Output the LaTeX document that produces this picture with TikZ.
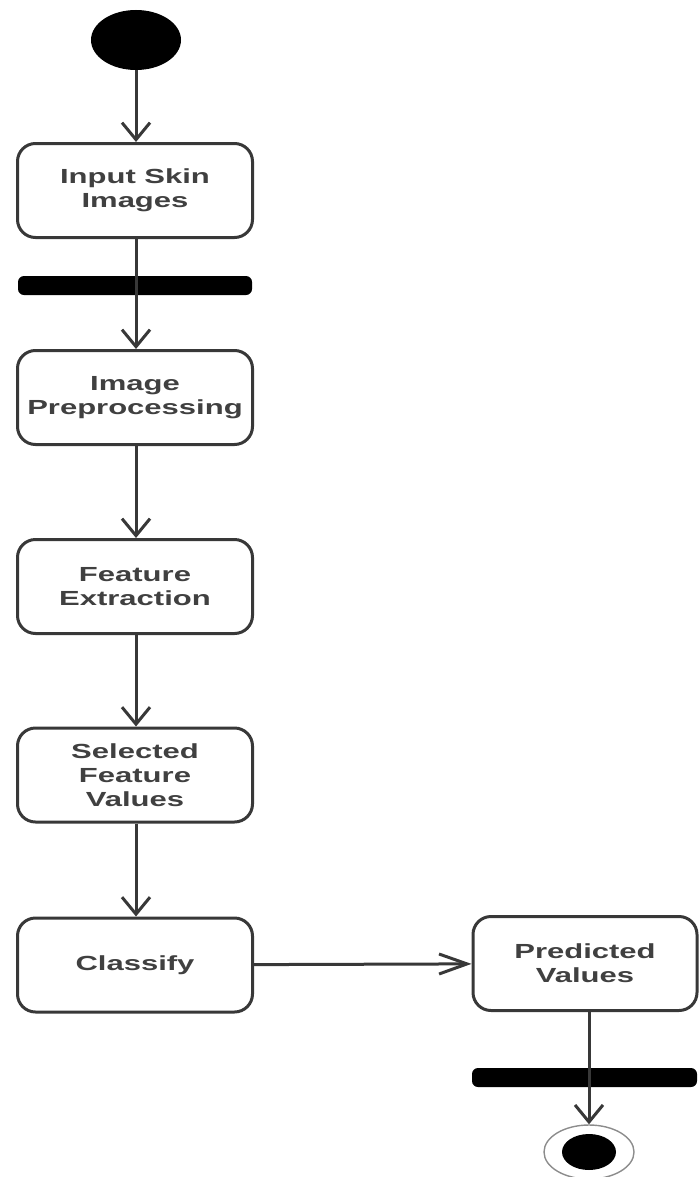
\documentclass[tikz,border=0pt]{standalone}
\usepackage{fontspec}
\setmainfont{Liberation Sans}[FakeStretch=1.52]
\usepackage{xcolor}
\usetikzlibrary{arrows.meta,positioning,shapes.geometric}
\definecolor{LineGray}{HTML}{383838}
\definecolor{TextGray}{HTML}{404040}
\definecolor{RingGray}{HTML}{8C8C8C}

\begin{document}
\begin{tikzpicture}[
      x=0.5pt, y=0.5pt,
      font=\fontsize{10.2}{11.9}\selectfont\bfseries,
      activity/.style={draw=LineGray,fill=white,line width=1.5pt,rounded corners=9pt,minimum width=117.5pt,minimum height=47pt,align=center,text=TextGray,inner sep=0pt},
      forkbar/.style={fill=black,rounded corners=3pt,minimum width=117pt,minimum height=9.5pt,inner sep=0pt},
      flow/.style={draw=LineGray,line width=1.5pt,-{Straight Barb[length=8.5pt,width=14pt,line width=1.5pt]}},
      sideflow/.style={draw=LineGray,line width=1.5pt,-{Straight Barb[length=14pt,width=10pt,line width=1.5pt]}}
    ]
      \useasboundingbox (0,0) rectangle (698,-1177);
      \node[ellipse,fill=black,minimum width=45pt,minimum height=30pt,inner sep=0pt] (start) at (136,-40) {};
      \node[activity] (input) at (135,-190.5) {Input Skin\\Images};
      \node[forkbar] (fork1) at (135,-285.5) {};
      \node[activity] (prep) at (135,-397.5) {Image\\Preprocessing};
      \node[activity] (extract) at (135,-586.5) {Feature\\Extraction};
      \node[activity] (select) at (135,-775) {Selected\\Feature\\Values};
      \node[activity] (classify) at (135,-965) {Classify};
      \node[activity,minimum width=112pt] (predict) at (585,-963.5) {Predicted\\Values};
      \node[forkbar,minimum width=112.5pt] (fork2) at (584.5,-1077.5) {};
      \node[ellipse,draw=RingGray,line width=0.7pt,minimum width=45pt,minimum height=27pt,inner sep=0pt] (finish) at (589,-1152) {};
      \node[ellipse,fill=black,minimum width=27pt,minimum height=18pt,inner sep=0pt] (finishdot) at (finish) {};
      \draw[flow] (start) -- (start |- input.north);
      \draw[flow] (input.south -| start) -- (start |- prep.north);
      \draw[flow] (prep.south -| start) -- (start |- extract.north);
      \draw[flow] (extract.south -| start) -- (start |- select.north);
      \draw[flow] (select.south -| start) -- (start |- classify.north);
      \draw[sideflow] (classify) -- (predict);
      \draw[flow] (predict.south -| finish) -- (finish);
    \end{tikzpicture}
\end{document}
